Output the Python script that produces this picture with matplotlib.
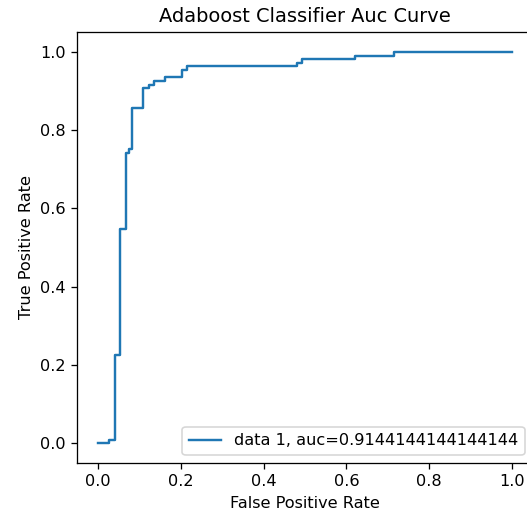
import matplotlib
matplotlib.use("Agg")
import matplotlib.pyplot as plt

# ROC curve corner points (false positive rate / true positive rate)
fpr = [0.0, 0.027, 0.027, 0.041, 0.041, 0.054, 0.054, 0.068, 0.068, 0.074,
       0.074, 0.081, 0.081, 0.108, 0.108, 0.122, 0.122, 0.135, 0.135, 0.162,
       0.162, 0.203, 0.203, 0.216, 0.216, 0.480, 0.480, 0.492, 0.492, 0.620,
       0.620, 0.714, 0.714, 1.0]
tpr = [0.0, 0.0, 0.009, 0.009, 0.225, 0.225, 0.548, 0.548, 0.741, 0.741,
       0.750, 0.750, 0.855, 0.855, 0.907, 0.907, 0.915, 0.915, 0.925, 0.925,
       0.934, 0.934, 0.952, 0.952, 0.963, 0.963, 0.970, 0.970, 0.980, 0.980,
       0.989, 0.989, 1.0, 1.0]
auc = 0.9144144144144144

dpi = 116
fig = plt.figure(figsize=(527 / dpi, 515 / dpi), dpi=dpi)
ax = fig.add_axes([0.1467, 0.101, 0.864, 0.837])

ax.plot(fpr, tpr, label="data 1, auc=" + str(auc))
ax.set_title("Adaboost Classifier Auc Curve")
ax.set_xlabel("False Positive Rate")
ax.set_ylabel("True Positive Rate")
ax.legend(loc=4)

fig.savefig("out.png", dpi=dpi)
